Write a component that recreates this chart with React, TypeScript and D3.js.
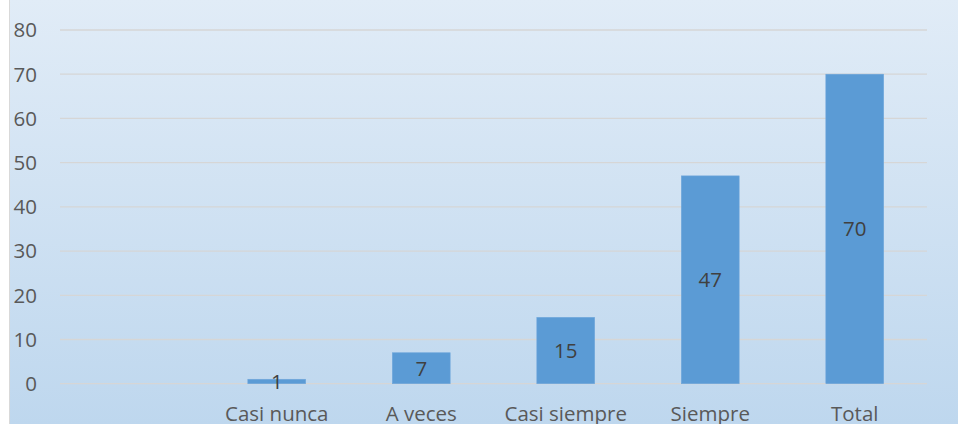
import * as d3 from 'd3'

// categorías del eje X (la primera va vacía, igual que en la hoja original)
const categories = ['', 'Casi nunca', 'A veces', 'Casi siempre', 'Siempre', 'Total']
const values: (number | null)[] = [null, 1, 7, 15, 47, 70]
const yTicks = [0, 10, 20, 30, 40, 50, 60, 70, 80]

const W = 958, H = 424
const M = { top: 30, right: 31, bottom: 40.3, left: 60 }
const FONT = '"Open Sans", sans-serif'

export default function App() {
  const iw = W - M.left - M.right
  const ih = H - M.top - M.bottom

  const x = d3.scaleBand<string>()
    .domain(categories.map((c, i) => `${i}|${c}`))
    .range([0, iw])
    .paddingInner(0.6)
    .paddingOuter(0.3)
  const y = d3.scaleLinear().domain([0, 80]).range([ih, 0])

  const keys = x.domain()

  return (
    <svg width={W} height={H} style={{ position: 'absolute', left: 0, top: 0 }}>
      <defs>
        <linearGradient id="bg" x1="0" y1="0" x2="0" y2="1">
          <stop offset="0" stopColor="#e1ecf7" />
          <stop offset="1" stopColor="#bed7ee" />
        </linearGradient>
      </defs>
      <rect x={0} y={0} width={W} height={H} fill="#ffffff" />
      <rect x={9.5} y={-1} width={W} height={H + 2} fill="url(#bg)" stroke="#d9d9d9" strokeWidth={1} />
      <g transform={`translate(${M.left},${M.top})`}>
        {yTicks.map(t => (
          <g key={t}>
            <line x1={0} x2={iw} y1={y(t)} y2={y(t)} stroke="#d6d6d6" strokeWidth={1.3} />
            <text x={-23} y={y(t)} dy="0.36em" textAnchor="end" fontFamily={FONT} fontSize={20.5} fill="#595959">{t}</text>
          </g>
        ))}
        {keys.map((k, i) => {
          const v = values[i]
          const bx = x(k) ?? 0
          const bw = x.bandwidth()
          return (
            <g key={k}>
              {v != null && (
                <rect x={bx} y={y(v)} width={bw} height={y(0) - y(v)} fill="#5b9bd5" stroke="#6ea6db" strokeWidth={0.6} />
              )}
              {v != null && (
                <text x={bx + bw / 2} y={(y(v) + y(0)) / 2} dy="0.36em" textAnchor="middle"
                  fontFamily={FONT} fontSize={20.5} fill="#404040">{v}</text>
              )}
              <text x={bx + bw / 2} y={ih + 37.5} textAnchor="middle" fontFamily={FONT} fontSize={20.5} fill="#595959">
                {categories[i]}
              </text>
            </g>
          )
        })}
      </g>
    </svg>
  )
}
